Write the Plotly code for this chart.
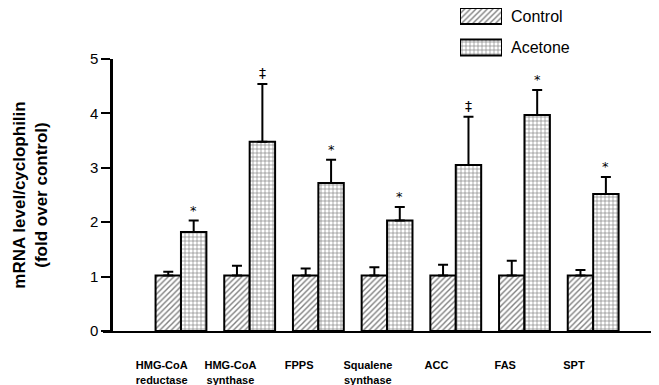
import plotly.graph_objects as go

categories = ["HMG-CoA<br>reductase", "HMG-CoA<br>synthase", "FPPS",
              "Squalene<br>synthase", "ACC", "FAS", "SPT"]
series_names = ["Control", "Acetone"]
control = [1.02, 1.02, 1.02, 1.02, 1.02, 1.02, 1.02]
control_err = [0.07, 0.18, 0.13, 0.15, 0.20, 0.27, 0.10]
acetone = [1.82, 3.48, 2.72, 2.03, 3.05, 3.97, 2.52]
acetone_err = [0.21, 1.06, 0.43, 0.25, 0.89, 0.46, 0.31]
significance = ["*", "‡", "*", "*", "‡", "*", "*"]
y_ticks = [0, 1, 2, 3, 4, 5]

FONT = "Liberation Sans, Arial, Helvetica, sans-serif"
NARROW = "Liberation Sans Narrow, Arial Narrow, Liberation Sans, sans-serif"
BARGAP = 0.26
LABEL_SHIFT = -0.28
xs = list(range(len(categories)))

patterns = {"Control": dict(shape="/", size=4, solidity=0.35),
            "Acetone": dict(shape="+", size=4, solidity=0.3)}

fig = go.Figure()
for name, vals, errs in [("Control", control, control_err),
                         ("Acetone", acetone, acetone_err)]:
    fig.add_trace(go.Bar(
        x=xs, y=vals, name=name, showlegend=False,
        marker=dict(color="white", line=dict(color="black", width=2),
                    pattern=dict(fgcolor="black", bgcolor="white",
                                 **patterns[name])),
        error_y=dict(type="data", symmetric=False, array=errs,
                     arrayminus=[0] * len(vals), color="black",
                     thickness=2, width=5),
    ))

# legend drawn as a small bar panel so swatches have the reference size
fig.add_trace(go.Bar(
    x=[1] * len(series_names), y=series_names, orientation="h",
    xaxis="x2", yaxis="y2", width=0.51, showlegend=False, hoverinfo="skip",
    marker=dict(color="white", line=dict(color="black", width=2),
                pattern=dict(fgcolor="black", bgcolor="white",
                             shape=[patterns[n]["shape"] for n in series_names],
                             size=[patterns[n]["size"] for n in series_names],
                             solidity=[patterns[n]["solidity"] for n in series_names])),
))

half = (1 - BARGAP) / 4
for i, (v, e, s) in enumerate(zip(acetone, acetone_err, significance)):
    fig.add_annotation(x=i + half, y=v + e, text=s, showarrow=False,
                       xref="x", yref="y",
                       yanchor="bottom", yshift=1,
                       font=dict(size=13 if s == "*" else 14, color="#000000",
                                 family="DejaVu Sans, Liberation Sans"))

# page body adds an 8px offset; layout numbers below compensate for it
PLOT_H = 323
fig.update_layout(
    width=659, height=385,
    margin=dict(l=95, r=12, t=0, b=385 - PLOT_H, autoexpand=False),
    paper_bgcolor="white", plot_bgcolor="white",
    barmode="group", bargap=BARGAP, bargroupgap=0,
    font=dict(family=FONT, color="black"),
    showlegend=False,
    xaxis=dict(domain=[0, 1], anchor="y", range=[-1.135, 6.9],
               tickvals=[x + LABEL_SHIFT for x in xs], ticktext=categories,
               showline=True, linecolor="black", linewidth=2,
               ticks="", showgrid=False, zeroline=False, automargin=False,
               tickfont=dict(size=11, family=NARROW, weight="bold"),
               ticklabelstandoff=23),
    yaxis=dict(domain=[0, (PLOT_H - 51) / PLOT_H], range=[0, 5],
               tickvals=y_ticks, anchor="free", position=8 / 552,
               showline=True, linecolor="black", linewidth=2.5,
               ticks="outside", ticklen=9, tickwidth=1.5, tickcolor="black",
               showgrid=False, zeroline=False, automargin=False,
               tickfont=dict(size=15, family=FONT),
               title=dict(text="mRNA level/cyclophilin<br>(fold over control)",
                          font=dict(size=17, family=FONT, weight="bold"),
                          standoff=36)),
    xaxis2=dict(domain=[(452 - 95) / 552, (494 - 95) / 552], anchor="y2",
                range=[0, 1], visible=False, fixedrange=True),
    yaxis2=dict(domain=[(PLOT_H - 55) / PLOT_H, 1], anchor="x2",
                type="category", range=[1.492, -0.254], side="right",
                showline=False, ticks="", showgrid=False, zeroline=False,
                automargin=False, ticklabelstandoff=8,
                tickfont=dict(size=16, family=FONT)),
)

fig.write_html("out.html")
